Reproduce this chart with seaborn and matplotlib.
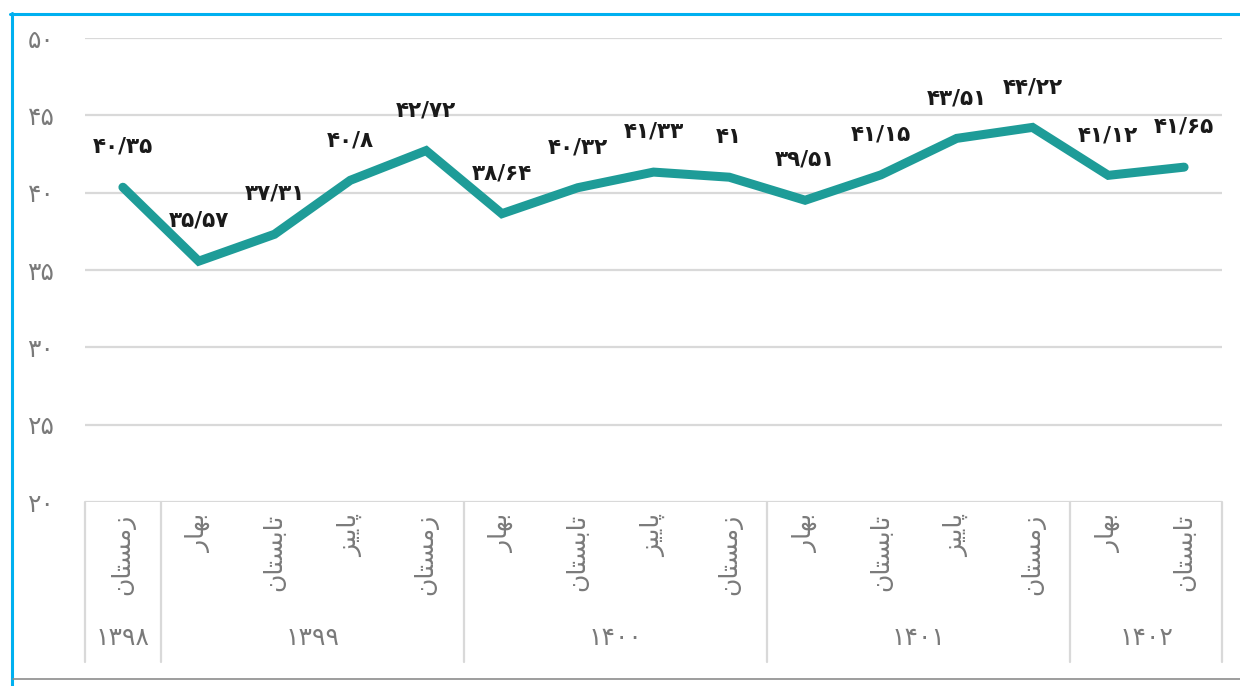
import matplotlib
matplotlib.use('Agg')
import matplotlib.pyplot as plt
import matplotlib.transforms as mtransforms
from matplotlib.lines import Line2D
import numpy as np
import seaborn as sns

# Data (quarterly values, Persian calendar)
seasons = ['زمستان', 'بهار', 'تابستان', 'پاییز', 'زمستان',
           'بهار', 'تابستان', 'پاییز', 'زمستان',
           'بهار', 'تابستان', 'پاییز', 'زمستان',
           'بهار', 'تابستان']
years = ['۱۳۹۸', '۱۳۹۹', '۱۴۰۰', '۱۴۰۱', '۱۴۰۲']
year_counts = [1, 4, 4, 4, 2]
values = [40.35, 35.57, 37.31, 40.8, 42.72, 38.64, 40.32, 41.33, 41,
          39.51, 41.15, 43.51, 44.22, 41.12, 41.65]
yticks = [20, 25, 30, 35, 40, 45, 50]

# Minimal Arabic-script shaping (matplotlib has no shaping engine)
FORMS = {
    'ز': ('\uFEAF', '\uFEB0', None, None),
    'ر': ('\uFEAD', '\uFEAE', None, None),
    'ا': ('\uFE8D', '\uFE8E', None, None),
    'م': ('\uFEE1', '\uFEE2', '\uFEE3', '\uFEE4'),
    'س': ('\uFEB1', '\uFEB2', '\uFEB3', '\uFEB4'),
    'ت': ('\uFE95', '\uFE96', '\uFE97', '\uFE98'),
    'ن': ('\uFEE5', '\uFEE6', '\uFEE7', '\uFEE8'),
    'ب': ('\uFE8F', '\uFE90', '\uFE91', '\uFE92'),
    'ه': ('\uFEE9', '\uFEEA', '\uFEEB', '\uFEEC'),
    'پ': ('\uFB56', '\uFB57', '\uFB58', '\uFB59'),
    'ی': ('\uFBFC', '\uFBFD', '\uFBFE', '\uFBFF'),
}


def shape(word):
    out = []
    for i, ch in enumerate(word):
        iso, fin, ini, med = FORMS[ch]
        prev_joins = i > 0 and FORMS[word[i - 1]][2] is not None
        joins_next = i < len(word) - 1 and ini is not None
        if prev_joins and joins_next:
            out.append(med)
        elif prev_joins:
            out.append(fin)
        elif joins_next:
            out.append(ini)
        else:
            out.append(iso)
    return ''.join(reversed(out))


def fa_num(v):
    s = f"{v:g}".replace('.', '/')
    return s.translate(str.maketrans('0123456789', '۰۱۲۳۴۵۶۷۸۹'))


sns.set_style('white')
plt.rcParams['font.family'] = ['DejaVu Sans']

fig = plt.figure(figsize=(12.4, 6.86), dpi=100)
ax = fig.add_axes([85 / 1240, 1 - 502 / 686, (1222 - 85) / 1240, (502 - 38) / 686])

x = np.arange(len(values))
line_color = '#1E9C98'
sns.lineplot(x=x, y=values, color=line_color, linewidth=6.5, ax=ax,
             solid_capstyle='round', solid_joinstyle='miter')

# data labels
for xi, v in zip(x, values):
    ax.annotate(fa_num(v), (xi, v), xytext=(0, 29), textcoords='offset points',
                ha='center', va='center', fontsize=15.5, fontweight='bold', color='#1a1a1a')

label_gray = '#7A7A7A'
ax.set_xlim(-0.5, len(values) - 0.5)
ax.set_ylim(20, 50)
ax.set_yticks(yticks)
ax.set_yticklabels([fa_num(t) for t in yticks], color=label_gray, fontsize=18)
ax.set_xticks([])
ax.tick_params(axis='y', length=0, pad=22)
ax.yaxis.grid(True, color='#D9D9D9', linewidth=1.6)
ax.set_axisbelow(True)
for sp in ax.spines.values():
    sp.set_visible(False)

# category table below the axis
trans = mtransforms.blended_transform_factory(ax.transData, ax.transAxes)
grid_gray = '#D9D9D9'
bounds = np.cumsum([0] + year_counts) - 0.5
for b in bounds:
    ax.plot([b, b], [0, -0.345], transform=trans, clip_on=False,
            color=grid_gray, linewidth=1.6)

for xi, s in zip(x, seasons):
    ax.text(xi, -0.026, shape(s), transform=trans, rotation=90,
            ha='center', va='top', fontsize=18, color=label_gray)

for i, yr in enumerate(years):
    mid = (bounds[i] + bounds[i + 1]) / 2
    ax.text(mid, -0.293, yr, transform=trans, ha='center', va='center',
            fontsize=18, color=label_gray)

# outer frame pieces
fig.add_artist(Line2D([10 / 1240, 1], [1 - 14 / 686, 1 - 14 / 686],
                      transform=fig.transFigure, color='#00B0F0', linewidth=2.2))
fig.add_artist(Line2D([12 / 1240, 12 / 1240], [0, 1 - 13 / 686],
                      transform=fig.transFigure, color='#00B0F0', linewidth=2.2))
fig.add_artist(Line2D([13 / 1240, 1], [1 - 679 / 686, 1 - 679 / 686],
                      transform=fig.transFigure, color='#8C8C8C', linewidth=1.2))

plt.savefig('out.png', dpi=100)
